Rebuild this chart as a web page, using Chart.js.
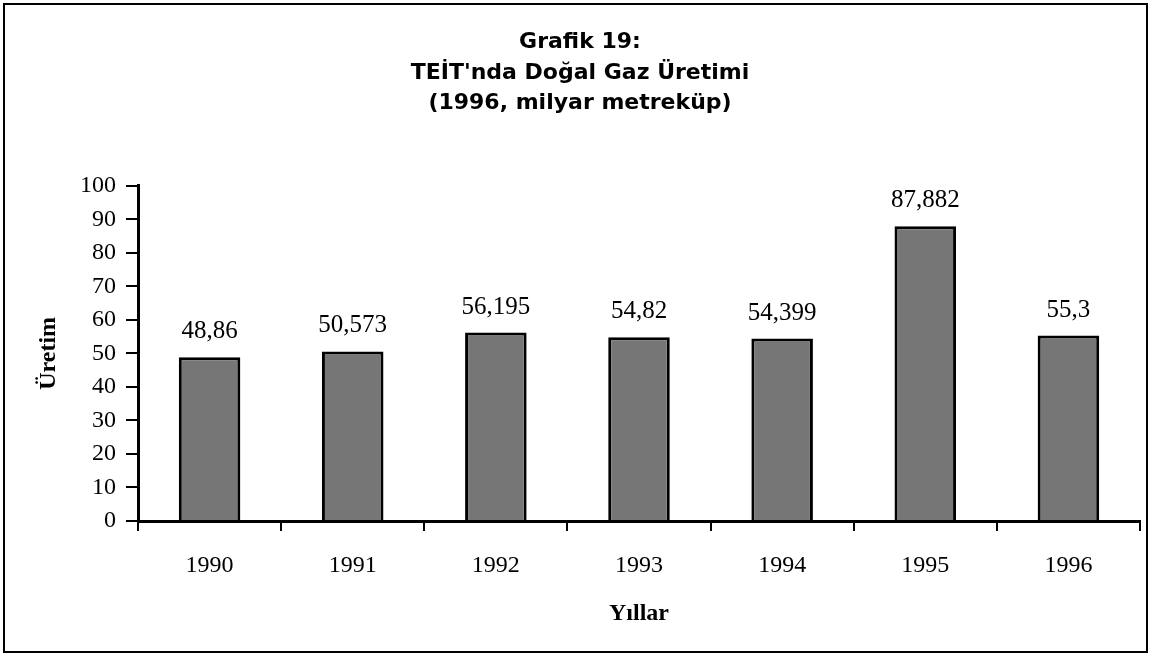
<!DOCTYPE html>
<html>
<head>
<meta charset="utf-8">
<script src="https://cdn.jsdelivr.net/npm/chart.js@4/dist/chart.umd.min.js"></script>
<style>
  html, body { margin: 0; padding: 0; background: #fff; }
  #wrap { position: relative; width: 1150px; height: 656px; }
  #frame {
    position: absolute; left: 3px; top: 3px; width: 1141px; height: 646px;
    border: 2px solid #000; pointer-events: none;
  }
  canvas { position: absolute; left: 0; top: 0; }
</style>
</head>
<body>
<div id="wrap">
  <canvas id="chart" width="1150" height="656"></canvas>
  <div id="frame"></div>
</div>
<script>
const years = ["1990", "1991", "1992", "1993", "1994", "1995", "1996"];
const production = [48.86, 50.573, 56.195, 54.82, 54.399, 87.882, 55.3];
const yTicks = [0, 10, 20, 30, 40, 50, 60, 70, 80, 90, 100];

const serif = "'Liberation Serif', 'Times New Roman', serif";
const sans = "'DejaVu Sans', Arial, sans-serif";

// value labels above each bar, decimal comma as in the source
const barLabels = {
  id: "barLabels",
  afterDatasetsDraw(chart) {
    const ctx = chart.ctx;
    const meta = chart.getDatasetMeta(0);
    ctx.save();
    ctx.font = "25px " + serif;
    ctx.fillStyle = "#000";
    ctx.textAlign = "center";
    ctx.textBaseline = "alphabetic";
    meta.data.forEach((bar, i) => {
      const txt = String(production[i]).replace(".", ",");
      ctx.fillText(txt, bar.x, bar.y - 19);
    });
    ctx.restore();
  },
};

new Chart("chart", {
  type: "bar",
  plugins: [barLabels],
  data: {
    labels: years,
    datasets: [
      {
        data: production,
        backgroundColor: "#767676",
        borderColor: "#000",
        borderWidth: 3,
        barPercentage: 0.43,
        categoryPercentage: 1,
      },
    ],
  },
  options: {
    responsive: false,
    animation: false,
    layout: { padding: { left: 20, right: 10, top: 27, bottom: 10 } },
    scales: {
      x: {
        afterFit: (axis) => { axis.height = 125; },
        grid: {
          display: true,
          offset: true,
          drawOnChartArea: false,
          drawTicks: true,
          tickLength: 10,
          color: "#000",
          lineWidth: 2,
        },
        border: { color: "#000", width: 3 },
        ticks: { color: "#000", font: { family: serif, size: 24 }, padding: 20, maxRotation: 0 },
        title: {
          display: true,
          text: "Yıllar",
          color: "#000",
          font: { family: serif, size: 24, weight: "bold" },
          padding: { top: 0, bottom: 18 },
        },
      },
      y: {
        min: 0,
        max: 100,
        afterFit: (axis) => { axis.width = 118; },
        afterBuildTicks: (axis) => {
          axis.ticks = yTicks.map((v) => ({ value: v }));
        },
        grid: {
          display: true,
          drawOnChartArea: false,
          drawTicks: true,
          tickLength: 12,
          color: "#000",
          lineWidth: 2,
        },
        border: { color: "#000", width: 3 },
        ticks: { color: "#000", font: { family: serif, size: 24 }, padding: 10 },
        title: {
          display: true,
          text: "Üretim",
          color: "#000",
          font: { family: serif, size: 24, weight: "bold" },
          padding: { top: 14, bottom: 0 },
        },
      },
    },
    plugins: {
      legend: { display: false },
      tooltip: { enabled: false },
      title: {
        display: true,
        text: ["Grafik 19:", "TEİT'nda Doğal Gaz Üretimi", "(1996, milyar metreküp)"],
        color: "#000",
        font: { family: sans, size: 22, weight: "bold", lineHeight: 1.39 },
        padding: { top: 0, bottom: 67 },
      },
    },
  },
});
</script>
</body>
</html>
